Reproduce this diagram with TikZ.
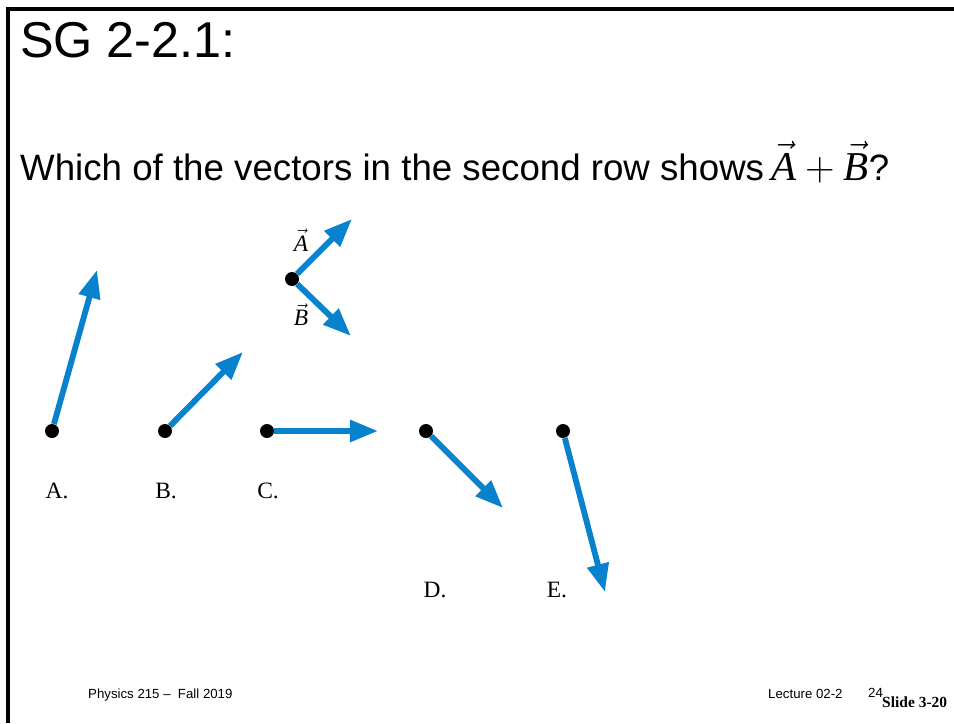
\RequirePackage{fix-cm}
\documentclass[tikz,border=0pt]{standalone}
\usepackage{amsmath}
\usepackage{fontspec}
\setmainfont{Liberation Serif}
\newfontfamily\arialfont{Liberation Sans}
\usetikzlibrary{positioning, arrows.meta}
\definecolor{vecblue}{RGB}{8,130,204}
\newcommand{\vecsym}[1]{\vec{\mathit{#1}}}
\tikzset{
    dot/.style={circle, fill=black, inner sep=0pt, minimum size=0.42cm},
    vec/.style={-{Triangle[length=24pt, width=18pt]}, line width=5pt, vecblue},
    frame/.style={line width=2.6pt, black},
    label/.style={inner sep=0pt, anchor=base, font=\fontsize{20}{24}\selectfont},
    veclabel/.style={inner sep=0pt, font=\fontsize{20}{24}\selectfont},
    heading/.style={inner sep=0pt, anchor=base west, font=\arialfont\fontsize{43}{50}\selectfont},
    question/.style={inner sep=0pt, anchor=base west, font=\arialfont\fontsize{31.3}{36}\selectfont},
    footer/.style={inner sep=0pt, anchor=base west, font=\arialfont\fontsize{11.3}{13}\selectfont}
}
\begin{document}
\begin{tikzpicture}[x=0.03cm, y=-0.03cm]
    \useasboundingbox (0,0) rectangle (954,723);

    % Slide frame
    \draw[frame] (8,723) -- (8,9) -- (954,9);

    % Title and question
    \node[heading] (title) at (20,57) {SG 2-2.1:};
    \node[question] (ask) at (20,180) {Which of the vectors in the second row shows{\fontsize{35}{40}\selectfont$\,\vecsym{A}+\vecsym{B}$}?};

    % Given vectors
    \node[dot] (o) at (292,279) {};
    \coordinate (tipA) at (352,219);
    \coordinate (tipB) at (351,336);
    \draw[vec] (o) -- (tipA);
    \draw[vec] (o) -- (tipB);
    \node[veclabel] (lblA) at (301,240) {$\vecsym{A}$};
    \node[veclabel] (lblB) at (301,315) {$\vecsym{B}$};

    % Answer choices
    \node[dot] (a) at (52,431) {};
    \coordinate (tipa) at (97,270);
    \draw[vec] (a) -- (tipa);
    \node[label] (la) at (57,498) {A.};

    \node[dot] (b) at (165,431) {};
    \coordinate (tipb) at (243,352);
    \draw[vec] (b) -- (tipb);
    \node[label] (lb) at (166,498) {B.};

    \node[dot] (c) at (267,431) {};
    \coordinate (tipc) at (378,431);
    \draw[vec] (c) -- (tipc);
    \node[label] (lc) at (268,498) {C.};

    \node[dot] (d) at (426,431) {};
    \coordinate (tipd) at (503,508);
    \draw[vec] (d) -- (tipd);
    \node[label] (ld) at (435,597) {D.};

    \node[dot] (e) at (563,431) {};
    \coordinate (tipe) at (605,592);
    \draw[vec] (e) -- (tipe);
    \node[label] (le) at (557,597) {E.};

    % Footer
    \node[footer] (course) at (88,698) {Physics 215 –\ \ Fall 2019};
    \node[footer] (lecture) at (768,698) {Lecture 02-2};
    \node[footer] (page) at (868,697) {24};
    \node[inner sep=0pt, anchor=base west, font=\bfseries\fontsize{13.2}{15}\selectfont] (slide) at (882,707) {Slide 3-20};
\end{tikzpicture}
\end{document}
